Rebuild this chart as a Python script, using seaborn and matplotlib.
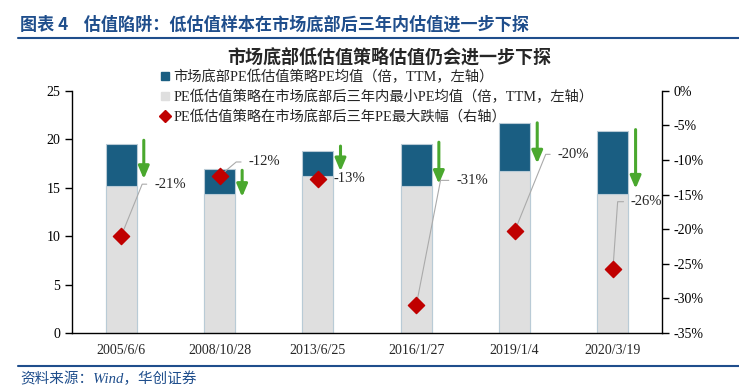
import matplotlib
matplotlib.use("Agg")
import matplotlib.pyplot as plt
from matplotlib.lines import Line2D
from matplotlib.font_manager import FontProperties
import seaborn as sns
import pandas as pd

sns.set_style("ticks")
plt.rcParams["font.family"] = ["Liberation Serif", "Noto Sans CJK SC"]
plt.rcParams["axes.unicode_minus"] = False

# data
dates = ["2005/6/6", "2008/10/28", "2013/6/25", "2016/1/27", "2019/1/4", "2020/3/19"]
pe_mean = [19.5, 16.9, 18.8, 19.5, 21.7, 20.9]
pe_min = [15.2, 14.4, 16.2, 15.2, 16.7, 14.4]
max_drop = [-0.21, -0.123, -0.127, -0.31, -0.203, -0.257]
drop_labels = ["-21%", "-12%", "-13%", "-31%", "-20%", "-26%"]
arrow_top = [19.9, 16.8, 19.3, 19.7, 21.7, 21.0]
arrow_bottom = [15.9, 14.05, 16.7, 15.4, 17.5, 14.9]

name_mean = "市场底部PE低估值策略PE均值（倍，TTM，左轴）"
name_min = "PE低估值策略在市场底部后三年内最小PE均值（倍，TTM，左轴）"
name_drop = "PE低估值策略在市场底部后三年PE最大跌幅（右轴）"

df = pd.DataFrame({"date": dates, "mean": pe_mean, "min": pe_min, "drop": max_drop})

c_dark = "#1a5e82"
c_grey = "#dfdfdf"
c_red = "#c00000"
c_green = "#4aa82e"
c_blue = "#1f4e8c"

fig = plt.figure(figsize=(7.39, 3.9), dpi=100)
ax = fig.add_axes([0.0974, 0.146, 0.7986, 0.621])

sns.barplot(data=df, x="date", y="mean", color=c_dark, width=0.315, ax=ax,
            edgecolor="#b9cbd6", linewidth=0.8, saturation=1)
sns.barplot(data=df, x="date", y="min", color=c_grey, width=0.315, ax=ax,
            edgecolor="#b9cbd6", linewidth=0.8, saturation=1)
ax.set_ylim(0, 25)
ax.set_yticks(range(0, 26, 5))
ax.set_xlim(-0.5, len(dates) - 0.5)
ax.set_xlabel("")
ax.set_ylabel("")
ax.tick_params(axis="x", length=0, labelsize=10, pad=8)
ax.tick_params(axis="y", length=5, width=1, labelsize=10, colors="black")
for s in ["left", "bottom"]:
    ax.spines[s].set_color("black")
    ax.spines[s].set_linewidth(1)
ax.spines["top"].set_visible(False)
ax.spines["right"].set_visible(False)

# green arrows: drop from mean PE to min PE
for i in range(len(dates)):
    ax.annotate("", xy=(i + 0.23, arrow_bottom[i]), xytext=(i + 0.23, arrow_top[i]),
                arrowprops=dict(arrowstyle="-|>,head_width=0.32,head_length=0.75",
                                color=c_green, lw=2.2, mutation_scale=10,
                                shrinkA=0, shrinkB=0))

ax2 = ax.twinx()
ax2.scatter(range(len(dates)), max_drop, marker="D", s=68, color=c_red, zorder=5)
ax2.set_ylim(-0.35, 0)
ticks = [-0.35, -0.30, -0.25, -0.20, -0.15, -0.10, -0.05, 0]
ax2.set_yticks(ticks)
ax2.set_yticklabels([f"{round(t * 100)}%" for t in ticks])
ax2.tick_params(axis="y", length=5, width=1, labelsize=10, colors="black")
ax2.spines["right"].set_color("black")
ax2.spines["right"].set_linewidth(1)
ax2.spines["top"].set_visible(False)
ax2.spines["left"].set_visible(False)
ax2.spines["bottom"].set_visible(False)

# label offsets (pixels) and leader-line angles
label_offsets = [(33, 52), (29, 14), (16, 0), (40, 125), (43, 77), (18, 67)]
leader_angles = [68, 40, None, 79, 68, 86]
for i, txt in enumerate(drop_labels):
    dx, dy = label_offsets[i]
    ang = leader_angles[i]
    props = None
    if ang is not None:
        props = dict(arrowstyle="-", color="#aaaaaa", lw=0.8, relpos=(0, 0.5),
                     shrinkA=3, shrinkB=0,
                     connectionstyle=f"angle,angleA=0,angleB={ang},rad=0")
    ax2.annotate(txt, xy=(i, max_drop[i]), xytext=(dx, dy), textcoords="offset pixels",
                 ha="left", va="center", fontsize=10.5, arrowprops=props, zorder=4)

# legend
handles = [
    Line2D([], [], marker="s", linestyle="none", color=c_dark, markersize=6),
    Line2D([], [], marker="s", linestyle="none", color=c_grey, markersize=6),
    Line2D([], [], marker="D", linestyle="none", color=c_red, markersize=6),
]
fig.legend(handles, [name_mean, name_min, name_drop], loc="upper left",
           bbox_to_anchor=(155 / 739, 1 - 64 / 390), frameon=False,
           prop=FontProperties(family=["Liberation Serif", "Noto Sans CJK SC"], size=10.3),
           handlelength=0.6, handletextpad=0.3, labelspacing=0.4, borderaxespad=0)

# chart title, header, source
fig.text(389 / 739, 1 - 57 / 390, "市场底部低估值策略估值仍会进一步下探",
         ha="center", va="center", fontsize=13, fontweight="bold",
         family=["Noto Sans CJK SC"])
fig.text(20 / 739, 1 - 25 / 390, "图表 4    估值陷阱：低估值样本在市场底部后三年内估值进一步下探",
         ha="left", va="center", fontsize=12.3, fontweight="bold", color=c_blue,
         family=["Noto Sans CJK SC"])
fig.add_artist(Line2D([18 / 739, 1], [1 - 38 / 390, 1 - 38 / 390], color=c_blue, lw=1.5,
                      transform=fig.transFigure))
fig.add_artist(Line2D([18 / 739, 1], [1 - 366 / 390, 1 - 366 / 390], color=c_blue, lw=1.5,
                      transform=fig.transFigure))
fig.text(20 / 739, 1 - 379 / 390, "资料来源：Wind，华创证券", ha="left", va="center",
         fontsize=10.5, style="italic", color=c_blue,
         family=["Liberation Serif", "Noto Sans CJK SC"])

fig.savefig("out.png", dpi=100)
